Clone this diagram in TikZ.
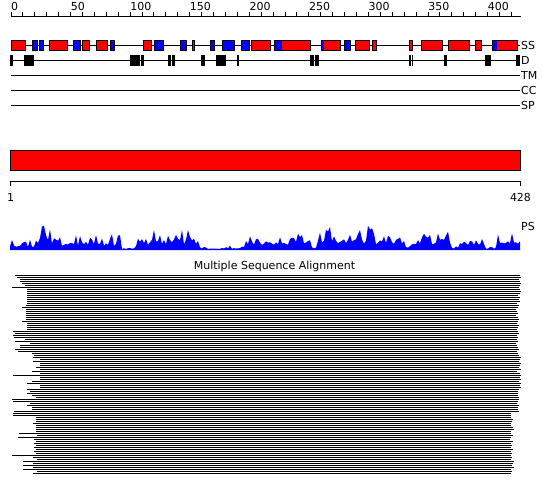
\documentclass[tikz,border=0pt]{standalone}
\usepackage{fontspec}
\setmainfont{DejaVu Sans}
\usepackage{xcolor}
\definecolor{ssred}{RGB}{255,0,0}
\definecolor{ssblue}{RGB}{0,0,255}

\tikzset{
  track/.style={black, line width=1pt},
  helix/.style={draw=black, fill=ssred, line width=1pt},
  strand/.style={draw=black, fill=ssblue, line width=1pt},
  txt/.style={inner sep=0pt, font=\fontsize{11}{13}\selectfont},
  msaline/.style={black, line width=1pt}
}

\begin{document}
\begin{tikzpicture}[x=1pt, y=-1pt,
  declare function={psbase(\t)=(\t<40)?5:((\t<62)?13:((\t<122)?8:((\t<137)?2:((\t<200)?10:((\t<245)?2:((\t<312)?9:((\t<318)?3:((\t<405)?11:((\t<412)?3:((\t<452)?9:((\t<460)?2:((\t<486)?8:((\t<497)?2:9)))))))))))));}]
\useasboundingbox (0,0) rectangle (550,495);
% ruler
\coordinate (rul-l) at (11,16.5);
\coordinate (rul-r) at (521,16.5);
\draw [track] (rul-l) -- (rul-r);
\foreach \r in {0,10,...,420}
  \draw [track] (11+1.1916*\r,16.5) -- ++(0,-4);
\foreach \r in {0,50,...,400}
  \node [txt, anchor=base west] (rul\r) at (11+1.1916*\r,10.5) {\r};
% tracks
\foreach \nm/\lab/\y in {ss/SS/45.5, d/D/60.5, tm/TM/75.5, cc/CC/90.5, sp/SP/105.5} {
  \coordinate (\nm-l) at (11,\y);
  \coordinate (\nm-r) at (520,\y);
  \draw [track] (\nm-l) -- (\nm-r);
  \node [txt, anchor=west] (\nm) at ([xshift=1pt]\nm-r) {\lab};
}
% secondary structure
\foreach \a/\b in {11/25.7, 49.3/67.7, 82.3/89.3, 96.3/107.3, 143.3/151.7, 192.3/194.3,
  251.7/270.3, 274/310.7, 321/340.7, 355.3/369.7, 372.3/376, 409.3/412.7,
  421.7/442.3, 448.7/469, 475.3/481.7, 492.3/517.3}
  \draw [helix] (\a,40.7) rectangle (\b,50.5);
\foreach \a/\b in {32.3/37.7, 39.3/43.7, 73.3/80.7, 110.3/114.7, 154.3/163.7, 180.3/186.3,
  210.3/214.3, 222.3/234.3, 241/249.7, 344.3/350}
  \draw [strand] (\a,40.7) rectangle (\b,50.5);
\foreach \a/\b in {274/281.7, 321/324.3, 492.3/497}
  \fill [ssblue] (\a+0.5,41.2) rectangle (\b,50);
% disorder
\foreach \a/\b in {10/13, 24/34, 130/140, 141/144, 168/170.7, 172.3/174.7, 201/204.7,
  216/226, 236.7/239, 310/314.3, 315/319.3, 409.3/410.7, 412/413.3, 444/446.7,
  485.3/491, 516/520}
  \fill [black] (\a,55) rectangle (\b,66);
% domain bar
\draw [black, fill=ssred, line width=1pt] (10.5,150.5) rectangle (520.5,170.5);
\coordinate (len-l) at (10.5,181.5);
\coordinate (len-r) at (520.5,181.5);
\draw [track] (len-l) -- (len-r);
\draw [track] (len-l) -- ++(0,5);
\draw [track] (len-r) -- ++(0,5);
\node [txt] (len1) at (10.5,197) {1};
\node [txt] (len428) at (520.5,197) {428};
% PS profile
\pgfmathsetseed{7}
\fill [ssblue] (10,250) \foreach \x in {10,12,...,520} {
  -- (\x,{250-psbase(\x)*(0.5+0.4*rnd)-psbase(\x)*1.4*rnd^3}) } -- (520,250) -- cycle;
\node [txt, anchor=west] (ps) at (521,226) {PS};
% alignment
\node [txt] (msa) at (274.5,266) {Multiple Sequence Alignment};
\foreach \s/\e [count=\k from 0] in {
  15/520, 17/521, 20/519, 20/520, 22/521, 25/520, 12/519, 27/520, 27/521, 27/520,
  27/518, 27/520, 27/519, 27/520, 27/517, 26/519, 22/518, 26/516, 26/517, 26/518,
  26/516, 26/518, 26/519, 22/518, 27/517, 27/519, 27/518, 27/517, 13/518, 15/519,
  13/517, 14/518, 25/517, 15/518, 30/516, 20/517, 20/518, 15/519, 18/517, 32/518,
  34/519, 33/521, 40/520, 33/519, 40/521, 40/520, 36/519, 40/521, 32/517, 40/520,
  13/521, 40/520, 40/521, 32/519, 27/521, 40/520, 40/521, 27/519, 30/518, 27/518,
  32/518, 36/519, 12/519, 13/518, 30/517, 27/519, 32/518, 32/518, 14/519, 13/511,
  13/511, 36/511, 36/513, 36/512, 33/511, 36/511, 36/513, 36/514, 36/511, 19/511,
  37/513, 18/511, 34/510, 36/513, 34/511, 36/512, 34/511, 36/513, 34/511, 36/512,
  12/511, 33/512, 37/511, 23/514, 33/513, 23/512, 33/514, 23/511, 37/512, 33/511}
  \draw [msaline] (\s,275.5+2*\k) -- (\e,275.5+2*\k);
\end{tikzpicture}
\end{document}
